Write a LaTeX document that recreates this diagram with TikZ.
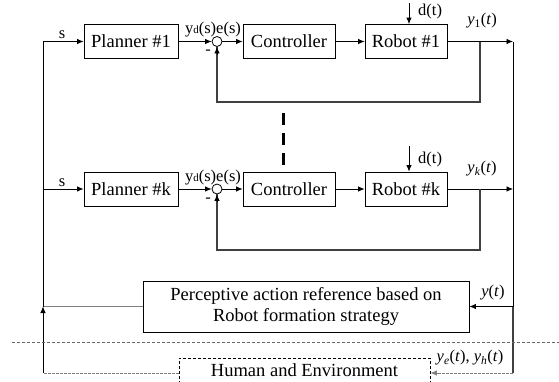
\documentclass[tikz,border=0pt]{standalone}
\usepackage{fontspec}
\setmainfont{Liberation Serif}
\usetikzlibrary{arrows.meta,calc}
\tikzset{
	block/.style={draw, line width=0.8pt, minimum height=34pt, inner sep=0pt, font=\fontsize{18.5}{21}\selectfont},
	sumnode/.style={draw, circle, line width=0.8pt, minimum size=10pt, inner sep=0pt},
	lbl/.style={inner sep=0pt, font=\fontsize{16.5}{18}\selectfont},
	arr/.style={line width=0.8pt, -{Latex[length=6.5pt,width=5.5pt]}},
	wire/.style={line width=0.8pt},
	fb/.style={line width=1.1pt, color=black!75},
}
\newcommand{\ydes}{y{\fontsize{11}{11}\selectfont d}(s)e(s)}

\begin{document}
\begin{tikzpicture}[x=1pt, y=-1pt]
			%%%%% START %%%%%
			\clip (0, 0) rectangle (559, 381);
			
			%% loop 1
			\node[block, minimum width=94pt] (plan1) at (131, 41.5) {Planner \#1};
			\node[sumnode] (sum1) at (217, 41.5) {};
			\node[block, minimum width=92pt] (ctrl1) at (289, 41.5) {Controller};
			\node[block, minimum width=82pt] (rob1) at (406, 41.5) {Robot \#1};
			\coordinate (in1) at (43, 41.5);
			\coordinate (d1) at (409, 3);
			\coordinate (tap1) at (480, 41.5);
			\coordinate (fb1) at (480, 102);
			\coordinate (out1) at (513, 41.5);
			
			\draw[arr] (in1) -- (plan1);
			\draw[arr] (plan1) -- (sum1);
			\draw[arr] (sum1) -- (ctrl1);
			\draw[arr] (ctrl1) -- (rob1);
			\draw[arr] (d1) -- (d1 |- rob1.north);
			\draw[arr] (rob1) -- (out1);
			\draw[fb] (tap1) -- (fb1) -| (sum1.south);
			\draw[arr] ($(sum1.south)+(0,8)$) -- (sum1.south);
			
			\node[lbl] (s1) at (62, 35) {s};
			\node[lbl] (e1) at (213, 30) {\ydes};
			\node[lbl] (m1) at (208, 52) {-};
			\node[lbl, anchor=west] (dl1) at (418, 12) {d(t)};
			\node[lbl] (y1) at (482, 21) {\textit{y}\textsubscript{1}(\textit{t})};
			
			%% dots between the loops
			\draw[line width=3pt, dash pattern=on 12pt off 8pt] (283, 113) -- (283, 166);
			
			%% loop k
			\node[block, minimum width=94pt] (plan2) at (131, 189) {Planner \#k};
			\node[sumnode] (sum2) at (217, 189) {};
			\node[block, minimum width=92pt] (ctrl2) at (289, 189) {Controller};
			\node[block, minimum width=82pt] (rob2) at (406, 189) {Robot \#k};
			\coordinate (in2) at (43, 189);
			\coordinate (d2) at (409, 146);
			\coordinate (tap2) at (480, 189);
			\coordinate (fb2) at (480, 250);
			\coordinate (out2) at (513, 189);
			
			\draw[arr] (in2) -- (plan2);
			\draw[arr] (plan2) -- (sum2);
			\draw[arr] (sum2) -- (ctrl2);
			\draw[arr] (ctrl2) -- (rob2);
			\draw[arr] (d2) -- (d2 |- rob2.north);
			\draw[arr] (rob2) -- (out2);
			\draw[fb] (tap2) -- (fb2) -| (sum2.south);
			\draw[arr] ($(sum2.south)+(0,8)$) -- (sum2.south);
			
			\node[lbl] (s2) at (62, 183) {s};
			\node[lbl] (e2) at (213, 178) {\ydes};
			\node[lbl] (m2) at (208, 200) {-};
			\node[lbl, anchor=west] (dl2) at (418, 160) {d(t)};
			\node[lbl] (yk) at (482, 169) {\textit{y}\textsubscript{\textit{k}}(\textit{t})};
			
			%% formation reference
			\node[block, minimum width=326pt, minimum height=51pt, align=center] (perc) at (306, 306.5)
				{Perceptive action reference based on\\Robot formation strategy};
			\coordinate (ytap) at (513, 306.5);
			\coordinate (rbot) at (513, 373);
			\coordinate (ltap) at (43, 306.5);
			\coordinate (lbot) at (43, 373);
			
			\draw[wire] (out1) -- (ytap);
			\draw[fb] (ytap) -- (rbot);
			\draw[arr] (ytap) -- (perc);
			\draw[fb, color=black!50] (perc) -- (ltap);
			\draw[wire] (ltap) -- (in1);
			\draw[arr] (lbot) -- (ltap);
			\node[lbl] (yt) at (493, 293) {\textit{y}(\textit{t})};
			
			%% separator
			\draw[line width=0.6pt, color=black!60, dash pattern=on 3pt off 2pt] (12, 342) -- (559, 342);
			
			%% human and environment
			\node[block, minimum width=251pt, minimum height=25pt, dash pattern=on 3pt off 2pt] (hum) at (304.5, 370.5) {Human and Environment};
			\draw[arr, color=black!50, dash pattern=on 3pt off 1pt] (rbot) -- (rbot -| hum.east);
			\draw[line width=1pt, color=black!50, dash pattern=on 3pt off 1pt] (lbot -| hum.west) -- (lbot);
			\node[lbl] (yeh) at (470, 358) {\textit{y}\textsubscript{\textit{e}}(\textit{t}), \textit{y}\textsubscript{\textit{h}}(\textit{t})};
			
			%%%%% END %%%%%
\end{tikzpicture}
\end{document}
